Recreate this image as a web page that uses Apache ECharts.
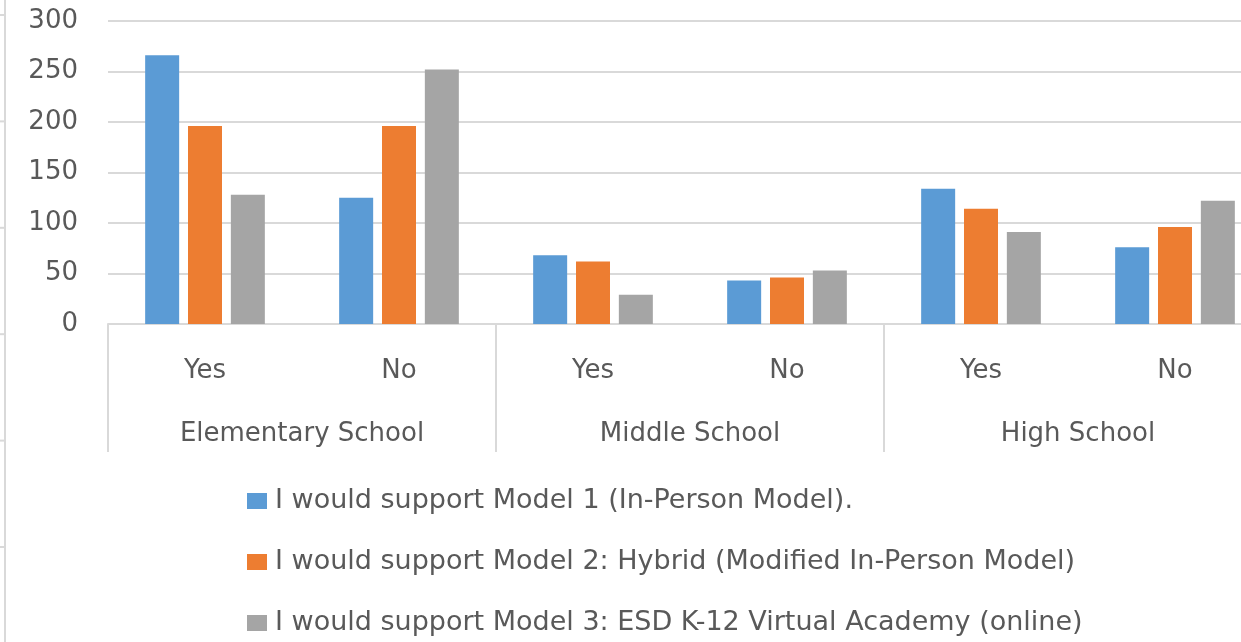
<!DOCTYPE html>
<html>
<head>
<meta charset="utf-8">
<script src="https://cdn.jsdelivr.net/npm/echarts@6/dist/echarts.min.js"></script>
<style>
    html, body { margin: 0; padding: 0; background: #fff; overflow: hidden; }
    /* the plot runs past the right edge of the window, as in the picture */
    #main { width: 1272px; height: 642px; }
</style>
</head>
<body>
<div id="main"></div>
<script>
// answers per school level
var answers = ['Yes', 'No', 'Yes', 'No', 'Yes', 'No'];
var levels = ['Elementary School', 'Middle School', 'High School'];
var seriesNames = [
    'I would support Model 1 (In-Person Model).',
    'I would support Model 2: Hybrid (Modified In-Person Model)',
    'I would support Model 3: ESD K-12 Virtual Academy (online)'
];
var model1 = [266, 125, 68, 43, 134, 76];
var model2 = [196, 196, 62, 46, 114, 96];
var model3 = [128, 252, 29, 53, 91, 122];
var yTicks = [0, 50, 100, 150, 200, 250, 300];

var textColor = '#595959';
var lineColor = '#d9d9d9';
var fontName = 'DejaVu Sans';

// left edge: piece of a neighbouring chart's axis
var edge = [{
    type: 'line',
    shape: { x1: 5, y1: 0, x2: 5, y2: 642 },
    style: { stroke: lineColor, lineWidth: 2 }
}];
for (var i = 0; i < 6; i++) {
    var ty = 15 + i * 106.4;
    edge.push({
        type: 'line',
        shape: { x1: 0, y1: ty, x2: 5, y2: ty },
        style: { stroke: lineColor, lineWidth: 2 }
    });
}

var option = {
    backgroundColor: '#ffffff',
    animation: false,
    color: ['#5b9bd5', '#ed7d31', '#a5a5a5'],
    graphic: edge,
    legend: {
        orient: 'vertical',
        left: 247,
        top: 486,
        padding: 0,
        itemWidth: 20,
        itemHeight: 16,
        itemGap: 31,
        icon: 'rect',
        textStyle: {
            fontFamily: fontName,
            fontSize: 27,
            lineHeight: 30,
            color: textColor,
            padding: [0, 0, 0, 3]
        },
        data: seriesNames
    },
    grid: {
        left: 108,
        top: 21,
        width: 1164,
        height: 303
    },
    xAxis: [
        {
            type: 'category',
            data: answers,
            axisLine: { lineStyle: { color: lineColor, width: 2 } },
            axisTick: { show: false },
            axisLabel: {
                interval: 0,
                margin: 32,
                fontFamily: fontName,
                fontSize: 26,
                lineHeight: 30,
                color: textColor
            }
        },
        {
            type: 'category',
            data: levels,
            position: 'bottom',
            axisLine: { show: false },
            axisTick: {
                show: true,
                interval: 0,
                length: 128,
                lineStyle: { color: lineColor, width: 2 }
            },
            axisLabel: {
                interval: 0,
                margin: 95,
                fontFamily: fontName,
                fontSize: 26,
                lineHeight: 30,
                color: textColor
            }
        }
    ],
    yAxis: {
        type: 'value',
        min: yTicks[0],
        max: yTicks[yTicks.length - 1],
        interval: 50,
        axisLine: { show: false },
        axisTick: { show: false },
        splitLine: { lineStyle: { color: lineColor, width: 2 } },
        axisLabel: {
            margin: 30,
            fontFamily: fontName,
            fontSize: 26,
            color: textColor
        }
    },
    series: [
        { name: seriesNames[0], type: 'bar', data: model1, barWidth: 34, barGap: '26%' },
        { name: seriesNames[1], type: 'bar', data: model2, barWidth: 34, barGap: '26%' },
        { name: seriesNames[2], type: 'bar', data: model3, barWidth: 34, barGap: '26%' }
    ]
};

var myChart = echarts.init(document.getElementById('main'));
myChart.setOption(option);
</script>
</body>
</html>
